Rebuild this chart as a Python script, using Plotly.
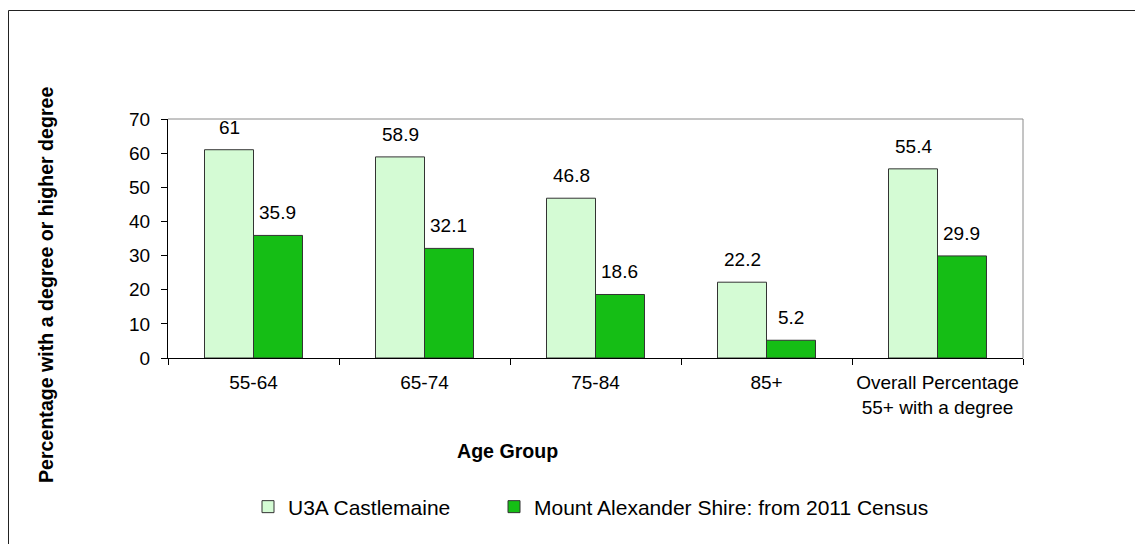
import plotly.graph_objects as go

categories = ["55-64", "65-74", "75-84", "85+", "Overall Percentage<br>55+ with a degree"]
u3a = [61, 58.9, 46.8, 22.2, 55.4]
shire = [35.9, 32.1, 18.6, 5.2, 29.9]
series_names = ["U3A Castlemaine", "Mount Alexander Shire: from 2011 Census"]
y_title = "Percentage with a degree or higher degree"
x_title = "Age Group"

FONT = "Liberation Sans, Arial, sans-serif"
LIGHT = "#D4FBD4"
DARK = "#15BE15"
EDGE = "#333333"

L, R, T, B = 168, 112, 119, 186
W, H = 1135, 544
pw, ph = W - L - R, H - T - B


def px_x(x):
    return (x - L) / pw


def px_y(y):
    return (H - B - y) / ph


fig = go.Figure()
fig.add_trace(go.Bar(x=categories, y=u3a, name=series_names[0], legend="legend",
                     marker=dict(color=LIGHT, line=dict(color=EDGE, width=1))))
fig.add_trace(go.Bar(x=categories, y=shire, name=series_names[1], legend="legend2",
                     marker=dict(color=DARK, line=dict(color=EDGE, width=1))))

annotations = []
cat_w = pw / len(categories)
bar_w = cat_w * (1 - 0.427) / 2
for i, c in enumerate(categories):
    for vals, sh in ((u3a, -bar_w / 2), (shire, bar_w / 2)):
        annotations.append(dict(x=c, y=vals[i], xref="x", yref="y", text=str(vals[i]),
                                showarrow=False, yanchor="bottom", xanchor="center", xshift=sh, yshift=10,
                                font=dict(family=FONT, size=19, color="#000")))

annotations.append(dict(x=px_x(46), y=px_y(285), xref="paper", yref="paper", text="<b>" + y_title + "</b>",
                        textangle=-90, showarrow=False, xanchor="center", yanchor="middle",
                        font=dict(family=FONT, size=19.6, color="#000")))
annotations.append(dict(x=px_x(507), y=px_y(451), xref="paper", yref="paper", text="<b>" + x_title + "</b>",
                        showarrow=False, xanchor="center", yanchor="middle",
                        font=dict(family=FONT, size=19.6, color="#000")))

shapes = [
    dict(type="rect", xref="paper", yref="paper", x0=px_x(8.5), y0=px_y(560), x1=px_x(1150), y1=px_y(10.5),
         line=dict(color="#222", width=1), layer="below"),
    dict(type="line", xref="paper", yref="paper", x0=0, x1=1, y0=1, y1=1, line=dict(color="#8a8a8a", width=1)),
    dict(type="line", xref="paper", yref="paper", x0=1, x1=1, y0=0, y1=1, line=dict(color="#8a8a8a", width=1)),
]

legend_common = dict(orientation="h", y=px_y(507), xanchor="left", yanchor="middle",
                     font=dict(family=FONT, size=21, color="#000"), itemwidth=30,
                     bgcolor="rgba(0,0,0,0)")

fig.update_layout(
    width=W, height=H,
    margin=dict(l=L, r=R, t=T, b=B),
    paper_bgcolor="white", plot_bgcolor="white",
    barmode="group", bargap=0.427, bargroupgap=0,
    font=dict(family=FONT, size=19, color="#000"),
    showlegend=True,
    legend=dict(x=px_x(248), **legend_common),
    legend2=dict(x=px_x(494), **legend_common),
    annotations=annotations,
    shapes=shapes,
)
fig.update_xaxes(type="category", showline=True, linecolor="#000", linewidth=1, ticks="outside",
                 tickson="boundaries", ticklen=6, tickcolor="#000", showgrid=False, zeroline=False,
                 tickangle=0, ticklabelstandoff=7, tickfont=dict(family=FONT, size=19, color="#000"))
fig.update_yaxes(range=[0, 70], dtick=10, showline=True, linecolor="#000", linewidth=1, ticks="outside",
                 ticklen=6, tickcolor="#000", showgrid=False, zeroline=False, ticklabelstandoff=7,
                 tickfont=dict(family=FONT, size=19, color="#000"))

fig.write_html("out.html")
